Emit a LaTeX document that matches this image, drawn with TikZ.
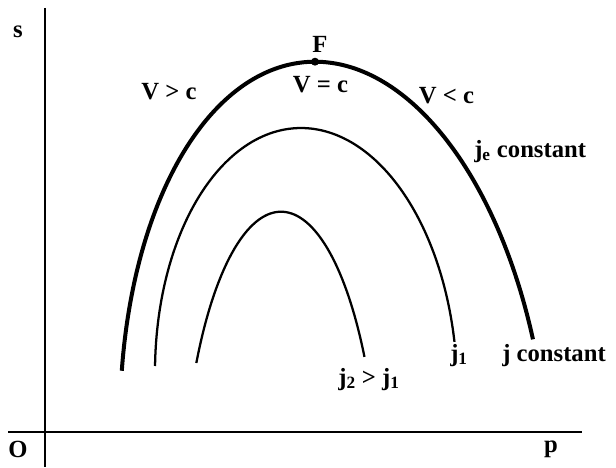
\documentclass[tikz,border=0pt]{standalone}
\usepackage{fontspec}
\setmainfont{Liberation Serif}
\begin{document}
\begin{tikzpicture}[x=0.75pt,y=-0.75pt,
  lbl/.style={inner sep=0pt, font=\fontsize{18.5}{22}\selectfont\bfseries},
  axis/.style={line width=1pt},
  thick curve/.style={line width=3pt},
  thin curve/.style={line width=1.7pt}]
\useasboundingbox (0,0) rectangle (616,467);
% axes
\coordinate (ytop) at (45,8);
\coordinate (ybot) at (45,467);
\coordinate (xl) at (8,432);
\coordinate (xr) at (582,432);
\draw[axis] (ytop) -- (ybot);
\draw[axis] (xl) -- (xr);
\node[lbl, anchor=base] (s) at (18,38) {s};
\node[lbl, anchor=base] (O) at (18,457) {O};
\node[lbl, anchor=base] (p) at (551,452) {p};
% outer curve (j_e constant)
\draw[thick curve] plot[domain=-77.2:72.5, samples=120, variable=\t, smooth]
  ({315+214*sin(\t)+0.05*397*(1-cos(\t))}, {61.7+397*(1-cos(\t))});
\coordinate (F) at (315,61.7);
\fill (F) circle (4);
\node[lbl, anchor=base] (Flbl) at (320,53) {F};
% middle curve (j_1)
\draw[thin curve] plot[domain=-86.6:81.1, samples=120, variable=\t, smooth]
  ({301+151*sin(\t)+0.02*253*(1-cos(\t))}, {128+253*(1-cos(\t))});
% inner curve (j_2)
\draw[thin curve] plot[domain=-58.5:57.2, samples=100, variable=\t, smooth]
  ({281+99.3*sin(\t)}, {211.7+316.8*(1-cos(\t))});
% labels
\node[lbl, anchor=base] (veq) at (320.5,92) {V = c};
\node[lbl, anchor=base] (vgt) at (169,99.5) {V > c};
\node[lbl, anchor=base] (vlt) at (446.5,103) {V < c};
\node[lbl, anchor=base west] (je) at (474,157) {j\textsubscript{e} constant};
\node[lbl, anchor=base west] (jc) at (502,361) {j constant};
\node[lbl, anchor=base] (j1) at (459,361) {j\textsubscript{1}};
\node[lbl, anchor=base] (j21) at (369,385) {j\textsubscript{2} > j\textsubscript{1}};
\end{tikzpicture}
\end{document}
